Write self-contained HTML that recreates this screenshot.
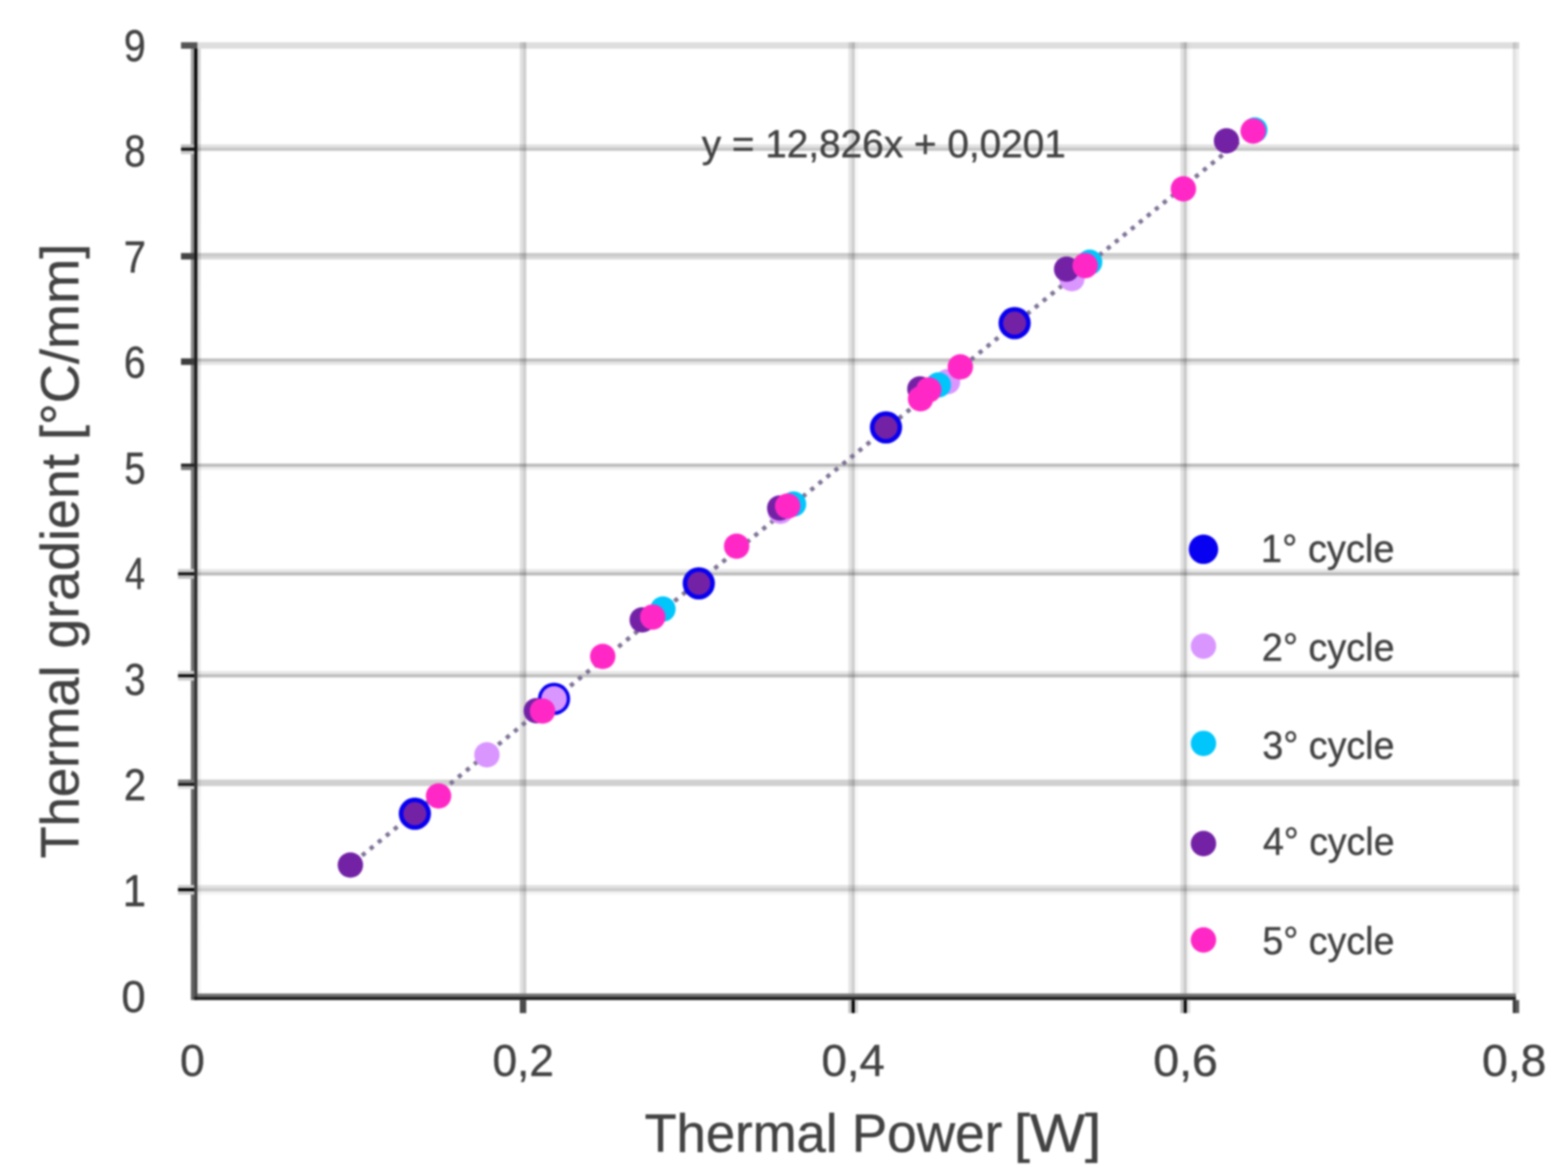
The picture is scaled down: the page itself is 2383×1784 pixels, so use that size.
<!DOCTYPE html>
<html lang="en"><head><meta charset="utf-8"><title>Thermal gradient vs thermal power</title>
<style>
html,body{margin:0;padding:0;background:#fff;}
body{width:2383px;height:1784px;overflow:hidden;font-family:"Liberation Sans",sans-serif;}
svg{display:block;filter:blur(1.5px);}
text{font-family:"Liberation Sans",sans-serif;fill:#424242;stroke:#424242;stroke-width:0.6px;}
</style></head><body>
<svg xmlns="http://www.w3.org/2000/svg" width="2383" height="1784" viewBox="0 0 2383 1784">
<rect width="2383" height="1784" fill="#fff"/>
<defs>
<linearGradient id="ya" x1="0" y1="0" x2="0" y2="1"><stop offset="0" stop-color="#a2a2a2"/><stop offset="0.45" stop-color="#7a7a7a"/><stop offset="1" stop-color="#5e5e5e"/></linearGradient>
<linearGradient id="yb" x1="0" y1="0" x2="0" y2="1"><stop offset="0" stop-color="#050505"/><stop offset="0.45" stop-color="#222222"/><stop offset="1" stop-color="#484848"/></linearGradient>
<linearGradient id="yc" x1="0" y1="0" x2="0" y2="1"><stop offset="0" stop-color="#d0d0d0"/><stop offset="0.45" stop-color="#e4e4e4"/><stop offset="1" stop-color="#f2f2f2"/></linearGradient>
</defs>
<g id="grid">
<rect x="300.0" y="74.0" width="5.0" height="1435.8" fill="url(#yc)"/>
<rect x="790.0" y="64.2" width="4.9" height="1445.8" fill="#e0e0e0"/>
<rect x="794.9" y="64.2" width="4.9" height="1445.8" fill="#cfcfcf"/>
<rect x="1289.3" y="64.2" width="5.0" height="1445.8" fill="#e4e4e4"/>
<rect x="1294.3" y="64.2" width="4.8" height="1445.8" fill="#cdcdcd"/>
<rect x="1299.1" y="64.2" width="4.9" height="1445.8" fill="#f8f8f8"/>
<rect x="1794.0" y="64.2" width="5.1" height="1445.8" fill="#e3e3e3"/>
<rect x="1799.1" y="64.2" width="4.7" height="1445.8" fill="#c8c8c8"/>
<rect x="1803.8" y="64.2" width="4.9" height="1445.8" fill="#f6f6f6"/>
<rect x="2299.0" y="64.2" width="4.9" height="1445.8" fill="#e0e0e0"/>
<rect x="2303.9" y="64.2" width="4.9" height="1445.8" fill="#efefef"/>
<rect x="300.0" y="64.2" width="2008.8" height="9.8" fill="#dedede" style="mix-blend-mode:multiply"/>
<rect x="300.0" y="219.5" width="2008.8" height="4.9" fill="#e2e2e2" style="mix-blend-mode:multiply"/>
<rect x="300.0" y="224.4" width="2008.8" height="4.9" fill="#c6c6c6" style="mix-blend-mode:multiply"/>
<rect x="300.0" y="384.5" width="2008.8" height="4.9" fill="#c8c8c8" style="mix-blend-mode:multiply"/>
<rect x="300.0" y="389.4" width="2008.8" height="4.9" fill="#d9d9d9" style="mix-blend-mode:multiply"/>
<rect x="300.0" y="544.6" width="2008.8" height="5.0" fill="#bfbfbf" style="mix-blend-mode:multiply"/>
<rect x="300.0" y="549.6" width="2008.8" height="4.9" fill="#e6e6e6" style="mix-blend-mode:multiply"/>
<rect x="300.0" y="704.5" width="2008.8" height="4.9" fill="#bbbbbb" style="mix-blend-mode:multiply"/>
<rect x="300.0" y="709.4" width="2008.8" height="4.9" fill="#efefef" style="mix-blend-mode:multiply"/>
<rect x="300.0" y="864.6" width="2008.8" height="5.0" fill="#e8e8e8" style="mix-blend-mode:multiply"/>
<rect x="300.0" y="869.6" width="2008.8" height="4.9" fill="#bbbbbb" style="mix-blend-mode:multiply"/>
<rect x="300.0" y="1019.6" width="2008.8" height="4.9" fill="#e8e8e8" style="mix-blend-mode:multiply"/>
<rect x="300.0" y="1024.5" width="2008.8" height="4.9" fill="#bdbdbd" style="mix-blend-mode:multiply"/>
<rect x="300.0" y="1184.6" width="2008.8" height="9.9" fill="#d0d0d0" style="mix-blend-mode:multiply"/>
<rect x="300.0" y="1344.8" width="2008.8" height="4.8" fill="#e2e2e2" style="mix-blend-mode:multiply"/>
<rect x="300.0" y="1349.6" width="2008.8" height="4.9" fill="#cccccc" style="mix-blend-mode:multiply"/>
<rect x="300.0" y="1354.5" width="2008.8" height="4.9" fill="#f4f4f4" style="mix-blend-mode:multiply"/>
</g>
<line x1="538" y1="1310" x2="1904.5" y2="197.5" stroke="#7d7194" stroke-width="6.5" stroke-dasharray="6.5 9.2" fill="none"/>
<g id="axes">
<rect x="290.1" y="74.0" width="5.0" height="1445.6" fill="url(#ya)"/>
<rect x="295.1" y="69.0" width="4.9" height="1450.6" fill="url(#yb)"/>
<rect x="300.0" y="1509.8" width="2003.9" height="4.9" fill="#707070"/>
<rect x="295.1" y="1514.7" width="2008.8" height="4.9" fill="#1c1c1c"/>
<rect x="275.1" y="64.2" width="24.9" height="9.8" fill="#555555"/>
<rect x="275.1" y="219.5" width="20.0" height="4.9" fill="#bbbbbb"/>
<rect x="275.1" y="224.4" width="20.0" height="4.9" fill="#111111"/>
<rect x="275.1" y="229.3" width="20.0" height="4.9" fill="#cccccc"/>
<rect x="275.1" y="384.5" width="20.0" height="9.8" fill="#444444"/>
<rect x="275.1" y="544.6" width="20.0" height="9.9" fill="#3c3c3c"/>
<rect x="275.1" y="704.5" width="20.0" height="4.9" fill="#222222"/>
<rect x="275.1" y="709.4" width="20.0" height="4.9" fill="#777777"/>
<rect x="270.5" y="864.6" width="24.6" height="5.0" fill="#cccccc"/>
<rect x="270.5" y="869.6" width="24.6" height="4.9" fill="#111111"/>
<rect x="270.5" y="874.5" width="24.6" height="4.9" fill="#bbbbbb"/>
<rect x="270.5" y="1019.6" width="24.6" height="4.9" fill="#cccccc"/>
<rect x="270.5" y="1024.5" width="24.6" height="4.9" fill="#0a0a0a"/>
<rect x="270.5" y="1029.4" width="24.6" height="4.9" fill="#cccccc"/>
<rect x="270.5" y="1184.6" width="24.6" height="5.0" fill="#777777"/>
<rect x="270.5" y="1189.6" width="24.6" height="4.9" fill="#1a1a1a"/>
<rect x="270.5" y="1194.5" width="24.6" height="4.5" fill="#e0e0e0"/>
<rect x="270.5" y="1344.8" width="24.6" height="4.8" fill="#cccccc"/>
<rect x="270.5" y="1349.6" width="24.6" height="4.9" fill="#000000"/>
<rect x="270.5" y="1354.5" width="24.6" height="4.9" fill="#cccccc"/>
<rect x="790.0" y="1519.6" width="9.8" height="19.9" fill="#4a4a4a"/>
<rect x="1289.3" y="1519.6" width="5.0" height="19.9" fill="#c0c0c0"/>
<rect x="1294.3" y="1519.6" width="4.8" height="19.9" fill="#000000"/>
<rect x="1299.1" y="1519.6" width="4.9" height="19.9" fill="#d0d0d0"/>
<rect x="1794.0" y="1519.6" width="5.1" height="19.9" fill="#b0b0b0"/>
<rect x="1799.1" y="1519.6" width="4.7" height="19.9" fill="#000000"/>
<rect x="1803.8" y="1519.6" width="4.9" height="19.9" fill="#d8d8d8"/>
<rect x="2299.0" y="1519.6" width="4.9" height="19.9" fill="#3a3a3a"/>
<rect x="2303.9" y="1519.6" width="4.9" height="19.9" fill="#5a5a5a"/>
</g>
<g id="s1" fill="#0800f0"><circle cx="630.5" cy="1236.5" r="24.5"/><circle cx="842" cy="1062" r="24.5"/><circle cx="1062" cy="886.5" r="24.5"/><circle cx="1346.5" cy="649.5" r="24.5"/><circle cx="1542" cy="491" r="24.5"/></g>
<g id="s2" fill="#d996ff"><circle cx="740" cy="1147" r="19.3"/><circle cx="842" cy="1062" r="19.3"/><circle cx="1186" cy="777" r="19.3"/><circle cx="1440" cy="580" r="19.3"/><circle cx="1629" cy="423.5" r="19.3"/></g>
<g id="s3" fill="#00c6fb"><circle cx="1007.5" cy="925.5" r="19.3"/><circle cx="1206" cy="766" r="19.3"/><circle cx="1426" cy="585" r="19.3"/><circle cx="1656" cy="398.5" r="19.3"/><circle cx="1907" cy="197.5" r="19.3"/></g>
<g id="s4" fill="#7322a6"><circle cx="532.5" cy="1314.5" r="19.3"/><circle cx="630.5" cy="1236.5" r="17.5"/><circle cx="815" cy="1080" r="19.3"/><circle cx="976" cy="942" r="19.3"/><circle cx="1062" cy="886.5" r="17.5"/><circle cx="1185" cy="772" r="19.3"/><circle cx="1346.5" cy="649.5" r="17.5"/><circle cx="1398" cy="591" r="19.3"/><circle cx="1542" cy="491" r="17.5"/><circle cx="1621" cy="409" r="19.3"/><circle cx="1864" cy="214" r="19.3"/></g>
<g id="s5" fill="#ff28c6"><circle cx="666.5" cy="1209.5" r="19.3"/><circle cx="824.5" cy="1080.5" r="19.3"/><circle cx="916" cy="997.5" r="19.3"/><circle cx="992" cy="937.7" r="19.3"/><circle cx="1119.5" cy="830" r="19.3"/><circle cx="1197" cy="769" r="19.3"/><circle cx="1411.5" cy="592.5" r="19.3"/><circle cx="1399" cy="606" r="19.3"/><circle cx="1459.5" cy="557.5" r="19.3"/><circle cx="1649.2" cy="403.7" r="19.3"/><circle cx="1798.5" cy="287" r="19.3"/><circle cx="1904.5" cy="199.2" r="19.3"/></g>
<g id="legend">
<circle cx="1829.0" cy="834.7" r="22.4" fill="#0800f0"/>
<text transform="translate(1916.36,854.20) scale(0.9634,1)" font-size="60">1° cycle</text>
<circle cx="1829.0" cy="981.9" r="19.3" fill="#d996ff"/>
<text transform="translate(1917.83,1003.70) scale(0.9564,1)" font-size="60">2° cycle</text>
<circle cx="1829.0" cy="1129.7" r="19.3" fill="#00c6fb"/>
<text transform="translate(1918.56,1153.20) scale(0.9529,1)" font-size="60">3° cycle</text>
<circle cx="1829.0" cy="1281.9" r="19.3" fill="#7322a6"/>
<text transform="translate(1919.42,1299.10) scale(0.9487,1)" font-size="60">4° cycle</text>
<circle cx="1829.0" cy="1428.4" r="19.3" fill="#ff28c6"/>
<text transform="translate(1918.41,1449.60) scale(0.9536,1)" font-size="60">5° cycle</text>
</g>
<text transform="translate(1066.45,239.40) scale(0.9818,1)" font-size="60" fill="#505050" stroke="#505050">y = 12,826x + 0,0201</text>
<g id="ylabels">
<text transform="translate(188.37,92.60) scale(0.8776,1)" font-size="68">9</text>
<text transform="translate(188.70,253.15) scale(0.8636,1)" font-size="68">8</text>
<text transform="translate(188.00,413.70) scale(0.8970,1)" font-size="68">7</text>
<text transform="translate(188.22,574.25) scale(0.8776,1)" font-size="68">6</text>
<text transform="translate(188.88,734.80) scale(0.8545,1)" font-size="68">5</text>
<text transform="translate(189.97,895.35) scale(0.8037,1)" font-size="68">4</text>
<text transform="translate(189.02,1055.90) scale(0.8545,1)" font-size="68">3</text>
<text transform="translate(188.17,1216.45) scale(0.8920,1)" font-size="68">2</text>
<text transform="translate(186.41,1377.00) scale(0.9385,1)" font-size="68">1</text>
<text transform="translate(184.55,1537.55) scale(0.9732,1)" font-size="68">0</text>
</g>
<g id="xlabels">
<text transform="translate(273.49,1635.00) scale(0.9978,1)" font-size="68">0</text>
<text transform="translate(748.51,1635.00) scale(0.9876,1)" font-size="68">0,2</text>
<text transform="translate(1248.43,1635.00) scale(1.0186,1)" font-size="68">0,4</text>
<text transform="translate(1752.68,1635.00) scale(1.0381,1)" font-size="68">0,6</text>
<text transform="translate(2252.28,1635.00) scale(1.0359,1)" font-size="68">0,8</text>
</g>
<g id="xtitle">
<text transform="translate(979.50,1749.50) scale(0.9753,1)" font-size="82">Thermal</text>
<text transform="translate(1294.54,1749.50) scale(0.9841,1)" font-size="82">Power</text>
<text transform="translate(1540.66,1749.50) scale(1.0825,1)" font-size="82">[W]</text>
</g>
<g id="ytitle">
<text transform="translate(118.80,1304.60) rotate(-90) scale(0.9746,1)" font-size="82">Thermal</text>
<text transform="translate(118.80,985.78) rotate(-90) scale(0.9972,1)" font-size="82">gradient</text>
<text transform="translate(118.80,668.78) rotate(-90) scale(1.0057,1)" font-size="82">[°C/mm]</text>
</g>
</svg></body></html>
